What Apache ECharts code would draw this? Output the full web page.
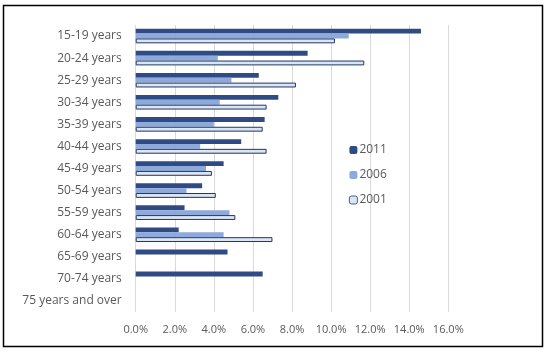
<!DOCTYPE html>
<html><head><meta charset="utf-8">
<script src="https://cdn.jsdelivr.net/npm/echarts@6/dist/echarts.min.js"></script>
<style>html,body{margin:0;padding:0;background:#fff}#c{width:550px;height:352px}</style>
</head><body><div id="c"></div>
<script>
const categories = ['15-19 years','20-24 years','25-29 years','30-34 years','35-39 years','40-44 years','45-49 years','50-54 years','55-59 years','60-64 years','65-69 years','70-74 years','75 years and over'];
const s2011 = [14.6, 8.8, 6.3, 7.3, 6.6, 5.4, 4.5, 3.4, 2.5, 2.2, 4.7, 6.5, null];
const s2006 = [10.9, 4.2, 4.9, 4.3, 4.0, 3.3, 3.6, 2.6, 4.8, 4.5, null, null, null];
const s2001 = [10.2, 11.7, 8.2, 6.7, 6.5, 6.7, 3.9, 4.1, 5.1, 7.0, null, null, null];
const xTicks = [0, 2, 4, 6, 8, 10, 12, 14, 16];

const chart = echarts.init(document.getElementById('c'));
const font = 'Open Sans, Liberation Sans, sans-serif';
chart.setOption({
  animation: false,
  graphic: [{type:'rect', shape:{x:3.5,y:5.5,width:539,height:341}, style:{fill:'none', stroke:'#000', lineWidth:1.5}}],
  grid: {left: 135.7, right: 101.7, top: 25, bottom: 40},
  legend: {
    orient: 'vertical', left: 344, top: 139, itemWidth: 8, itemHeight: 8, itemGap: 13,
    itemStyle: {borderWidth: 0.8},
    textStyle: {fontFamily: font, fontSize: 12, color: '#595959', padding:[0,0,0,-3]},
    data: ['2011','2006','2001']
  },
  xAxis: {
    type: 'value', min: xTicks[0], max: xTicks[xTicks.length-1], interval: 2,
    axisLine: {show: false}, axisTick: {show: false},
    splitLine: {lineStyle: {color: '#D9D9D9'}},
    axisLabel: {formatter: v => v.toFixed(1) + '%', fontFamily: font, fontSize: 11, color: '#595959', margin: 12}
  },
  yAxis: {
    type: 'category', data: categories, inverse: true,
    axisLine: {show: false}, axisTick: {show: false},
    axisLabel: {interval: 0, fontFamily: font, fontSize: 12, color: '#595959', margin: 14}
  },
  series: [
    {name: '2011', type: 'bar', data: s2011, barGap: '0%', barCategoryGap: '34%', itemStyle: {color: '#2F4B85'}},
    {name: '2006', type: 'bar', data: s2006, barGap: '0%', barCategoryGap: '34%', itemStyle: {color: '#8EA9DB'}},
    {name: '2001', type: 'bar', data: s2001, barGap: '0%', barCategoryGap: '34%', itemStyle: {color: '#DCE5F5', borderColor: '#1F3864', borderWidth: 1}}
  ]
});
</script></body></html>
